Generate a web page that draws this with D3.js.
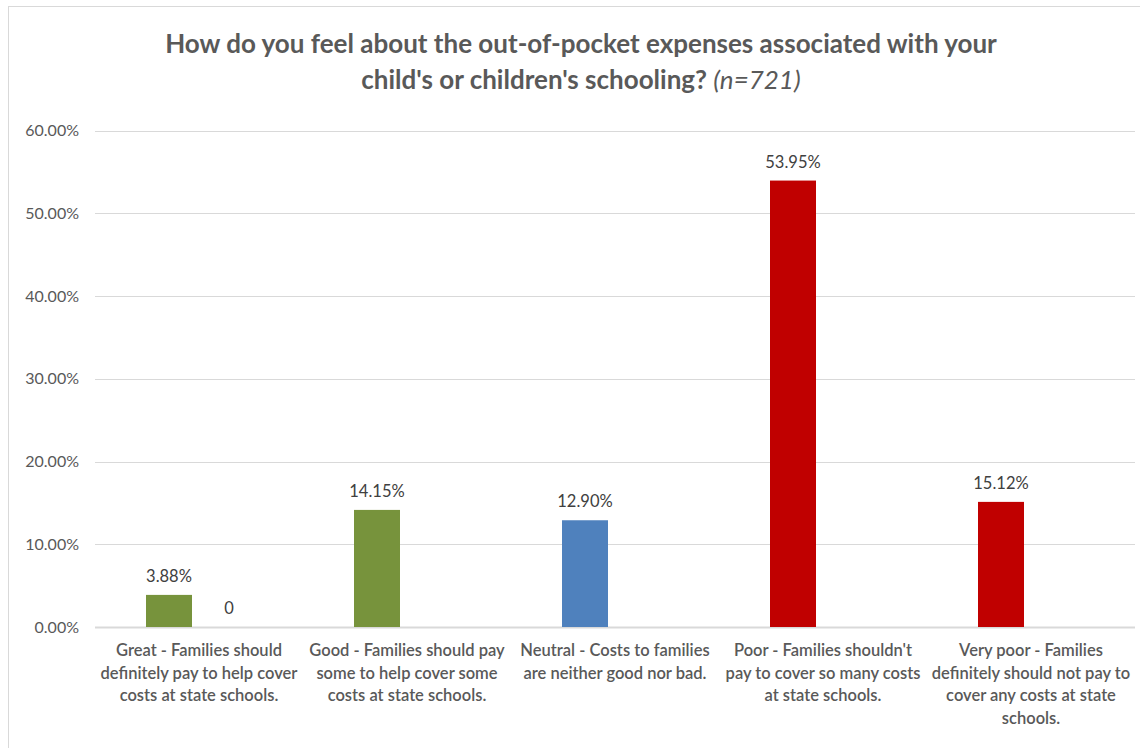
<!DOCTYPE html>
<html>
<head>
<meta charset="utf-8">
<script src="https://cdn.jsdelivr.net/npm/d3@7"></script>
<style>
  body { margin: 0; background: #fff; }
  text { font-family: Lato, "Open Sans", sans-serif; }
</style>
</head>
<body>
<div id="chart"></div>
<script>
// categories (each label split into its wrapped lines)
const categories = [
  ["Great - Families should", "definitely pay to help cover", "costs at state schools."],
  ["Good - Families should pay", "some to help cover some", "costs at state schools."],
  ["Neutral - Costs to families", "are neither good nor bad."],
  ["Poor - Families shouldn't", "pay to cover so many costs", "at state schools."],
  ["Very poor - Families", "definitely should not pay to", "cover any costs at state", "schools."]
];
const responses = [3.88, 14.15, 12.90, 53.95, 15.12];
const secondSeries = [0, null, null, null, null];
const barColors = ["#77933C", "#77933C", "#4F81BD", "#C00000", "#C00000"];
const yTicks = [0, 10, 20, 30, 40, 50, 60];

const width = 1140, height = 748;
const margin = {top: 130.5, right: 5, bottom: 121, left: 95};

const svg = d3.select("#chart").append("svg")
    .attr("width", width)
    .attr("height", height);

// chart border
svg.append("rect")
    .attr("x", 8.5).attr("y", 6.5)
    .attr("width", 1200).attr("height", 800)
    .attr("fill", "none")
    .attr("stroke", "#d9d9d9");

const x0 = d3.scaleBand()
    .domain(d3.range(categories.length))
    .range([margin.left, width - margin.right]);

const x1 = d3.scaleBand()
    .domain(["s1", "s2"])
    .range([0, x0.bandwidth()])
    .paddingInner(0.2333)
    .paddingOuter(0.85);

const y = d3.scaleLinear()
    .domain([0, 60])
    .range([height - margin.bottom, margin.top]);

// gridlines
svg.append("g")
  .selectAll("line")
  .data(yTicks)
  .enter().append("line")
    .attr("x1", margin.left)
    .attr("x2", width - margin.right)
    .attr("y1", d => Math.round(y(d)) + 0.5)
    .attr("y2", d => Math.round(y(d)) + 0.5)
    .attr("stroke", "#d9d9d9")
    .attr("stroke-width", d => d === 0 ? 2 : 1);

// y tick labels
svg.append("g")
  .selectAll("text")
  .data(yTicks)
  .enter().append("text")
    .attr("x", 79)
    .attr("y", d => y(d))
    .attr("dy", "0.35em")
    .attr("text-anchor", "end")
    .attr("font-size", 16)
    .attr("fill", "#595959")
    .text(d => d.toFixed(2) + "%");

// bars
svg.append("g")
  .selectAll("rect")
  .data(responses)
  .enter().append("rect")
    .attr("x", (d, i) => x0(i) + x1("s1"))
    .attr("y", d => y(d))
    .attr("width", x1.bandwidth())
    .attr("height", d => y(0) - y(d))
    .attr("fill", (d, i) => barColors[i]);

// data labels
svg.append("g")
  .selectAll("text")
  .data(responses)
  .enter().append("text")
    .attr("x", (d, i) => x0(i) + x1("s1") + x1.bandwidth() / 2)
    .attr("y", d => y(d) - 13)
    .attr("text-anchor", "middle")
    .attr("font-size", 16.5)
    .attr("fill", "#404040")
    .text(d => d.toFixed(2) + "%");

svg.append("g")
  .selectAll("text")
  .data(secondSeries.map((v, i) => ({v, i})).filter(d => d.v !== null))
  .enter().append("text")
    .attr("x", d => x0(d.i) + x1("s2") + x1.bandwidth() / 2)
    .attr("y", d => y(d.v) - 13)
    .attr("text-anchor", "middle")
    .attr("font-size", 16.5)
    .attr("fill", "#404040")
    .text(d => d.v);

// category labels
const cat = svg.append("g")
  .selectAll("text")
  .data(categories)
  .enter().append("text")
    .attr("x", (d, i) => x0(i) + x0.bandwidth() / 2)
    .attr("y", 656)
    .attr("text-anchor", "middle")
    .attr("font-size", 16.5)
    .attr("font-weight", 600)
    .attr("fill", "#595959");

cat.selectAll("tspan")
  .data(d => d)
  .enter().append("tspan")
    .attr("x", function() { return this.parentNode.getAttribute("x"); })
    .attr("dy", (d, i) => i === 0 ? 0 : 22.7)
    .text(d => d);

// title
const title = svg.append("text")
    .attr("text-anchor", "middle")
    .attr("font-size", 26)
    .attr("font-weight", "bold")
    .attr("fill", "#595959");
title.append("tspan")
    .attr("x", 581).attr("y", 53)
    .text("How do you feel about the out-of-pocket expenses associated with your");
title.append("tspan")
    .attr("x", 581).attr("y", 89)
    .text("child's or children's schooling? ");
title.append("tspan")
    .attr("font-weight", "normal")
    .attr("font-style", "italic")
    .text("(n=721)");
</script>
</body>
</html>
